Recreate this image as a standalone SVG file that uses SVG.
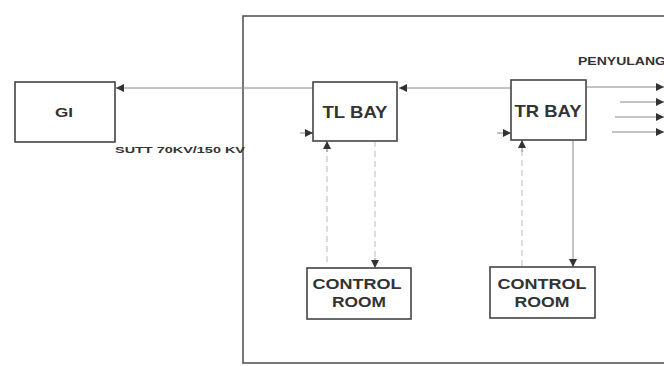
<svg xmlns="http://www.w3.org/2000/svg" width="664" height="366" viewBox="0 0 664 366">
<style>
.box{fill:#fff;stroke:#444;stroke-width:1.6}
.frame{fill:none;stroke:#555;stroke-width:1.6}
.ln{fill:none;stroke:#888;stroke-width:1}
.dl{fill:none;stroke:#bbb;stroke-width:1;stroke-dasharray:6 4}
.t{font-family:"Liberation Sans",Arial,sans-serif;font-weight:bold;fill:#333}
.ah{fill:#333}
</style>
<defs>
<marker id="arr" viewBox="0 0 8 8" refX="8" refY="4" markerWidth="8" markerHeight="8" markerUnits="userSpaceOnUse" orient="auto">
<path d="M0,0 L8,4 L0,8 Z" class="ah"/>
</marker>
</defs>
<rect class="frame" x="243" y="16" width="440" height="347"/>
<g id="connectors">
<line class="ln" x1="511" y1="88" x2="399" y2="88" marker-end="url(#arr)"/>
<line class="ln" x1="313" y1="88" x2="116" y2="88" marker-end="url(#arr)"/>
<line class="ln" x1="587" y1="87" x2="664" y2="87" marker-end="url(#arr)"/>
<line class="ln" x1="620" y1="102" x2="664" y2="102" marker-end="url(#arr)"/>
<line class="ln" x1="615" y1="117" x2="664" y2="117" marker-end="url(#arr)"/>
<line class="ln" x1="612" y1="132" x2="664" y2="132" marker-end="url(#arr)"/>
<line class="ln" x1="300" y1="133" x2="313" y2="133" marker-end="url(#arr)"/>
<line class="ln" x1="497" y1="133" x2="511" y2="133" marker-end="url(#arr)"/>
<line class="dl" x1="327" y1="262" x2="327" y2="150"/>
<line class="ln" x1="327" y1="152" x2="327" y2="141" marker-end="url(#arr)"/>
<line class="dl" x1="375" y1="141" x2="375" y2="262"/>
<line class="ln" x1="375" y1="258" x2="375" y2="268" marker-end="url(#arr)"/>
<line class="dl" x1="522" y1="266" x2="522" y2="150"/>
<line class="ln" x1="522" y1="152" x2="522" y2="140" marker-end="url(#arr)"/>
<line class="ln" x1="573" y1="140" x2="573" y2="267" marker-end="url(#arr)"/>
</g>
<g id="gi">
<rect class="box" x="15" y="82" width="100" height="60"/>
<text class="t" x="64" y="117" font-size="13" text-anchor="middle" textLength="18" lengthAdjust="spacingAndGlyphs">GI</text>
</g>
<g id="tl-bay">
<rect class="box" x="313" y="82" width="84" height="59"/>
<text class="t" x="355" y="118" font-size="17" text-anchor="middle" textLength="65" lengthAdjust="spacingAndGlyphs">TL BAY</text>
</g>
<g id="tr-bay">
<rect class="box" x="511" y="80" width="75" height="60"/>
<text class="t" x="548" y="117" font-size="17" text-anchor="middle" textLength="67" lengthAdjust="spacingAndGlyphs">TR BAY</text>
</g>
<g id="control-room-1">
<rect class="box" x="307" y="268" width="104" height="51"/>
<text class="t" x="357" y="289" font-size="15" text-anchor="middle" textLength="89" lengthAdjust="spacingAndGlyphs">CONTROL</text>
<text class="t" x="359" y="307" font-size="15" text-anchor="middle" textLength="54" lengthAdjust="spacingAndGlyphs">ROOM</text>
</g>
<g id="control-room-2">
<rect class="box" x="490" y="267" width="105" height="51"/>
<text class="t" x="542" y="289" font-size="15" text-anchor="middle" textLength="89" lengthAdjust="spacingAndGlyphs">CONTROL</text>
<text class="t" x="542" y="307" font-size="15" text-anchor="middle" textLength="55" lengthAdjust="spacingAndGlyphs">ROOM</text>
</g>
<g id="labels">
<text class="t" x="115" y="153" font-size="9.5" textLength="130" lengthAdjust="spacingAndGlyphs">SUTT 70KV/150 KV</text>
<text class="t" x="578" y="65" font-size="10.5" textLength="88" lengthAdjust="spacingAndGlyphs">PENYULANG</text>
</g>
</svg>
